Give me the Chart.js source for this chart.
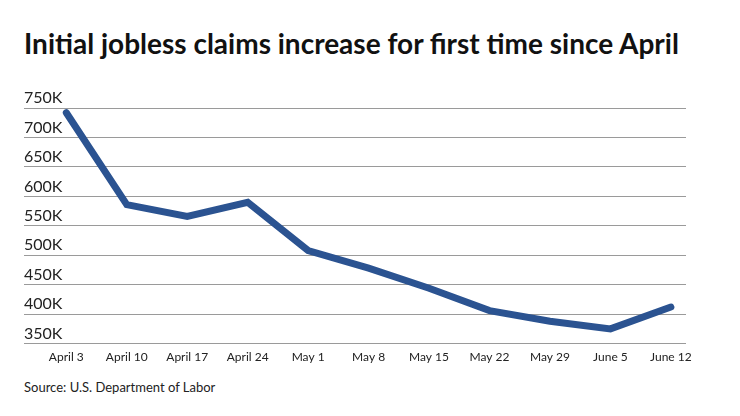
<!DOCTYPE html>
<html>
<head>
<meta charset="utf-8">
<script src="https://cdn.jsdelivr.net/npm/chart.js@4/dist/chart.umd.min.js"></script>
<style>
  html, body { margin: 0; padding: 0; background: #fff; }
  body { width: 740px; height: 416px; position: relative; overflow: hidden; font-family: Lato, sans-serif; }
  #title { position: absolute; left: 24px; top: 26px; font-size: 28px; font-weight: 700; color: #111; white-space: nowrap; }
  #source { position: absolute; left: 24px; top: 379px; font-size: 13px; color: #222; }
  #wrap { position: absolute; left: 0; top: 80px; width: 740px; height: 290px; }
</style>
</head>
<body>
<div id="title">Initial jobless claims increase for first time since April</div>
<div id="wrap"><canvas id="claimsChart"></canvas></div>
<div id="source">Source: U.S. Department of Labor</div>
<script>
const weeks = ["April 3", "April 10", "April 17", "April 24", "May 1", "May 8", "May 15", "May 22", "May 29", "June 5", "June 12"];
const claims = [742000, 586000, 566000, 590000, 508000, 478000, 444000, 406000, 388000, 375000, 412000];
const yTicks = [350000, 400000, 450000, 500000, 550000, 600000, 650000, 700000, 750000];

document.addEventListener("DOMContentLoaded", function () {
  const ctx = document.getElementById("claimsChart").getContext("2d");

  new Chart(ctx, {
    type: 'line',
    data: {
      datasets: [{
        label: 'Initial jobless claims',
        data: claims.map((v, i) => ({ x: i, y: v })),
        borderColor: '#2b5391',
        borderWidth: 7,
        pointRadius: 0,
        tension: 0,
        borderCapStyle: 'round',
        borderJoinStyle: 'miter',
        fill: false
      }]
    },
    options: {
      responsive: true,
      maintainAspectRatio: false,
      animation: false,
      layout: { padding: { left: 24, right: 54, top: 28, bottom: 0 } },
      plugins: { legend: { display: false }, tooltip: { enabled: false } },
      scales: {
        x: {
          type: 'linear',
          min: -0.7,
          max: 10.25,
          grid: { display: false, drawTicks: false },
          border: { display: false },
          ticks: {
            stepSize: 1,
            includeBounds: false,
            autoSkip: false,
            maxRotation: 0,
            padding: 6,
            color: '#222',
            font: { family: 'Lato', size: 12 },
            callback: value => weeks[value] ?? ''
          }
        },
        y: {
          min: 350000,
          max: 750000,
          afterBuildTicks: scale => { scale.ticks = yTicks.map(v => ({ value: v })); },
          grid: { color: '#9a9a9a', lineWidth: 1, drawTicks: false },
          border: { display: false },
          ticks: {
            mirror: true,
            padding: 0,
            labelOffset: -10,
            color: '#222',
            font: { family: 'Lato', size: 16 },
            callback: value => (value / 1000) + 'K'
          }
        }
      }
    }
  });
});
</script>
</body>
</html>
